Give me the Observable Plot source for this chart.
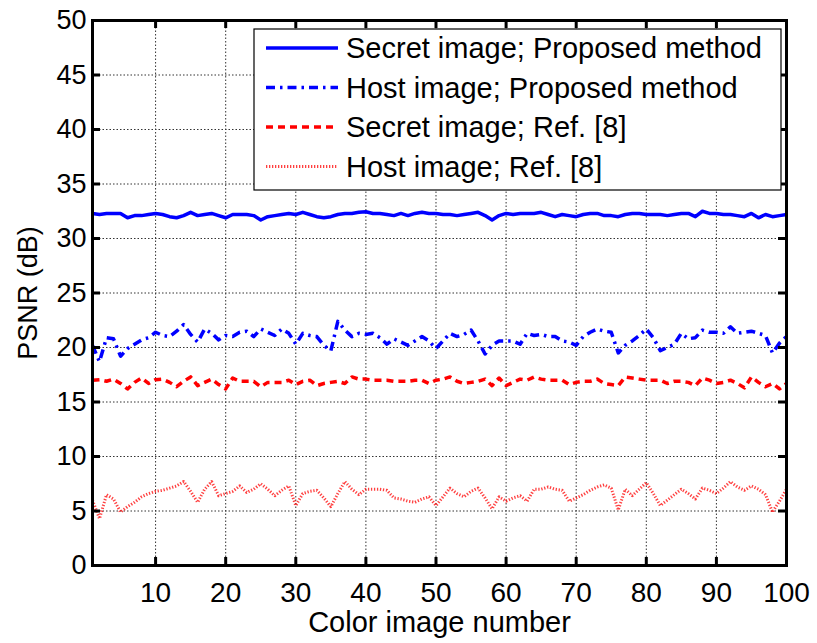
<!DOCTYPE html>
<html><head><meta charset="utf-8">
<script src="https://cdn.jsdelivr.net/npm/d3@7"></script>
<script src="https://cdn.jsdelivr.net/npm/@observablehq/plot@0.6"></script>
<style>
body{margin:0;background:#fff;}
#chart{position:relative;width:817px;height:643px;}
</style></head><body><div id="chart"></div>
<script>
const imageNumbers = Array.from({length: 100}, (_, i) => i + 1);
const secretProposed = [32.3,32.2,32.3,32.3,32.3,31.9,32.1,32.1,32.2,32.3,
32.2,32.0,31.9,32.1,32.4,32.1,32.2,32.3,32.1,31.9,
32.2,32.2,32.2,32.1,31.7,32.0,32.1,32.2,32.3,32.2,
32.4,32.2,32.0,31.9,32.0,32.2,32.3,32.3,32.4,32.45,
32.3,32.3,32.2,32.1,32.3,32.1,32.3,32.4,32.3,32.3,
32.2,32.2,32.1,32.2,32.3,32.4,32.1,31.7,32.1,32.3,
32.2,32.3,32.3,32.3,32.4,32.2,32.0,32.2,32.1,32.0,
32.2,32.3,32.3,32.1,32.1,32.0,32.2,32.3,32.3,32.2,
32.2,32.2,32.1,32.2,32.3,32.3,32.0,32.5,32.3,32.3,
32.2,32.2,32.1,32.0,32.3,31.9,32.2,32.0,32.1,32.2];
const hostProposed = [20.2,18.7,20.9,20.8,19.2,19.9,20.3,20.7,20.9,21.4,
21.1,21.0,21.5,22.1,21.2,20.5,21.7,21.3,20.7,21.1,
21.0,21.4,21.5,21.0,21.7,21.4,21.1,21.7,21.3,20.3,
21.3,21.1,21.0,20.2,19.7,22.4,21.6,21.0,21.3,21.2,
21.3,20.9,20.3,20.8,20.5,20.2,20.6,21.0,20.6,19.9,
20.6,21.3,21.0,21.2,21.6,20.6,19.4,20.2,20.6,20.6,
20.6,20.3,21.3,21.1,21.2,21.0,21.0,20.6,20.5,20.2,
21.0,21.4,21.7,21.5,21.4,19.5,20.2,20.6,21.1,21.7,
20.9,19.7,20.0,20.3,21.3,20.8,20.9,21.6,21.4,21.4,
21.3,21.9,21.3,21.4,21.5,21.3,21.1,19.5,20.4,21.0];
const secretRef8 = [17.0,17.05,16.9,17.1,16.7,16.2,16.8,17.2,16.7,17.05,
17.1,16.8,16.4,16.9,17.3,16.5,16.8,17.1,16.6,16.2,
17.2,16.9,16.9,16.9,16.4,16.8,16.8,16.8,17.0,16.6,
16.9,17.0,16.5,16.7,16.8,16.9,16.7,17.3,17.1,17.1,
17.0,17.0,17.0,16.9,16.9,16.9,17.0,17.0,16.7,17.0,
17.1,17.3,16.9,16.7,16.8,16.9,17.1,16.5,17.2,16.5,
16.8,17.1,17.0,17.3,17.1,17.0,17.0,17.0,16.6,16.8,
16.9,16.9,17.1,16.7,16.6,16.5,17.3,17.2,17.1,17.0,
17.0,17.0,16.7,16.9,16.9,16.8,16.5,17.2,17.0,16.7,
16.8,17.0,16.7,16.3,17.3,16.8,16.4,16.7,16.2,16.7];
const hostRef8 = [6.0,4.3,6.5,6.1,4.9,5.4,5.8,6.3,6.6,6.8,
6.9,7.1,7.3,7.7,6.8,5.8,7.0,7.7,6.4,6.6,
6.8,7.3,6.7,7.0,7.5,7.0,6.4,6.9,7.3,5.5,
6.6,6.8,6.9,6.2,5.4,6.6,7.7,7.0,6.5,7.0,
7.0,7.0,6.9,6.2,6.1,5.9,5.8,6.1,6.3,5.5,
6.3,7.1,6.6,6.3,6.8,7.1,6.2,5.2,6.3,5.9,
6.2,6.4,5.9,7.0,7.0,7.2,7.0,6.9,5.9,6.2,
6.5,6.9,7.2,7.4,7.1,5.1,7.0,6.4,7.0,7.6,
6.6,5.5,6.0,6.5,7.0,6.6,6.1,7.1,6.9,6.6,
7.1,7.7,7.2,6.9,7.3,7.0,6.5,4.9,5.9,7.0];
const seriesNames = ["Secret image; Proposed method","Host image; Proposed method","Secret image; Ref. [8]","Host image; Ref. [8]"];
const xTicks = [10,20,30,40,50,60,70,80,90,100];
const yTicks = [0,5,10,15,20,25,30,35,40,45,50];
const xLabel = "Color image number";
const yLabel = "PSNR (dB)";

const seriesValues = [secretProposed, hostProposed, secretRef8, hostRef8];
const styles = [
  {stroke:"#0000ff", strokeWidth:3.5, strokeDasharray:null, strokeOpacity:1},
  {stroke:"#0000ff", strokeWidth:3.5, strokeDasharray:"9,5,2.5,5", strokeOpacity:1},
  {stroke:"#ff0000", strokeWidth:3.5, strokeDasharray:"7,5", strokeOpacity:1},
  {stroke:"#ff0000", strokeWidth:3, strokeDasharray:"1.3,1.7", strokeOpacity:0.75}
];
const tables = seriesValues.map((vals, k) => vals.map((v, i) => ({n: imageNumbers[i], psnr: v, series: seriesNames[k]})));

const W = 817, H = 643, ML = 92, MR = 31, MT = 20, MB = 78;
const frameW = W - ML - MR, frameH = H - MT - MB, tickLen = 8;
const font = "'Liberation Sans', Arial, Helvetica, sans-serif";
const gridStyle = {stroke:"#333", strokeOpacity:1, strokeWidth:1, strokeDasharray:"1.5,2"};
const tickStyle = {stroke:"#000", strokeWidth:3, strokeLinecap:"butt"};

const plot = Plot.plot({
  width: W, height: H,
  marginLeft: ML, marginRight: MR, marginTop: MT, marginBottom: MB,
  style: {fontFamily: font, fontSize: "27px", color: "#000", background: "#fff", overflow: "visible"},
  x: {domain: [1, 100]},
  y: {domain: [0, 50]},
  marks: [
    Plot.gridX(xTicks, gridStyle),
    Plot.gridY(yTicks, gridStyle),
    ...tables.map((t, k) => Plot.line(t, {x: "n", y: "psnr", strokeLinecap: "butt", strokeLinejoin: "round", ...styles[k]})),
    Plot.tickX(xTicks, {x: d => d, insetTop: frameH - tickLen, ...tickStyle}),
    Plot.tickX(xTicks, {x: d => d, insetBottom: frameH - tickLen, ...tickStyle}),
    Plot.tickY(yTicks, {y: d => d, insetRight: frameW - tickLen, ...tickStyle}),
    Plot.tickY(yTicks, {y: d => d, insetLeft: frameW - tickLen, ...tickStyle}),
    Plot.frame({stroke: "#000", strokeWidth: 3}),
    Plot.axisX(xTicks, {anchor: "bottom", tickSize: 0, tickPadding: 17, fontSize: 28, label: null}),
    Plot.axisY(yTicks, {anchor: "left", tickSize: 0, tickPadding: 6, fontSize: 27, label: null}),
    Plot.text([xLabel], {frameAnchor: "bottom", dy: 57, lineAnchor: "middle", fontSize: 29, text: d => d}),
    Plot.text([yLabel], {frameAnchor: "left", dx: -64, rotate: -90, textAnchor: "middle", fontSize: 27, text: d => d})
  ]
});
document.getElementById("chart").appendChild(plot);

// legend
const svg = d3.select(plot);
const lg = svg.append("g").attr("font-family", font).attr("font-size", 29).attr("text-anchor", "start");
const box = {x: 254, y: 29, w: 527, h: 161};
lg.append("rect").attr("x", box.x).attr("y", box.y).attr("width", box.w).attr("height", box.h)
  .attr("fill", "#fff").attr("stroke", "#000").attr("stroke-width", 1.2);
seriesNames.forEach((name, k) => {
  const cy = box.y + 19 + k * 39.5;
  const s = styles[k];
  lg.append("line").attr("x1", box.x + 12).attr("x2", box.x + 84).attr("y1", cy).attr("y2", cy)
    .attr("stroke", s.stroke).attr("stroke-width", s.strokeWidth)
    .attr("stroke-dasharray", s.strokeDasharray).attr("stroke-opacity", s.strokeOpacity);
  lg.append("text").attr("x", box.x + 92).attr("y", cy).attr("dy", "0.35em").attr("fill", "#000").text(name);
});
</script></body></html>
